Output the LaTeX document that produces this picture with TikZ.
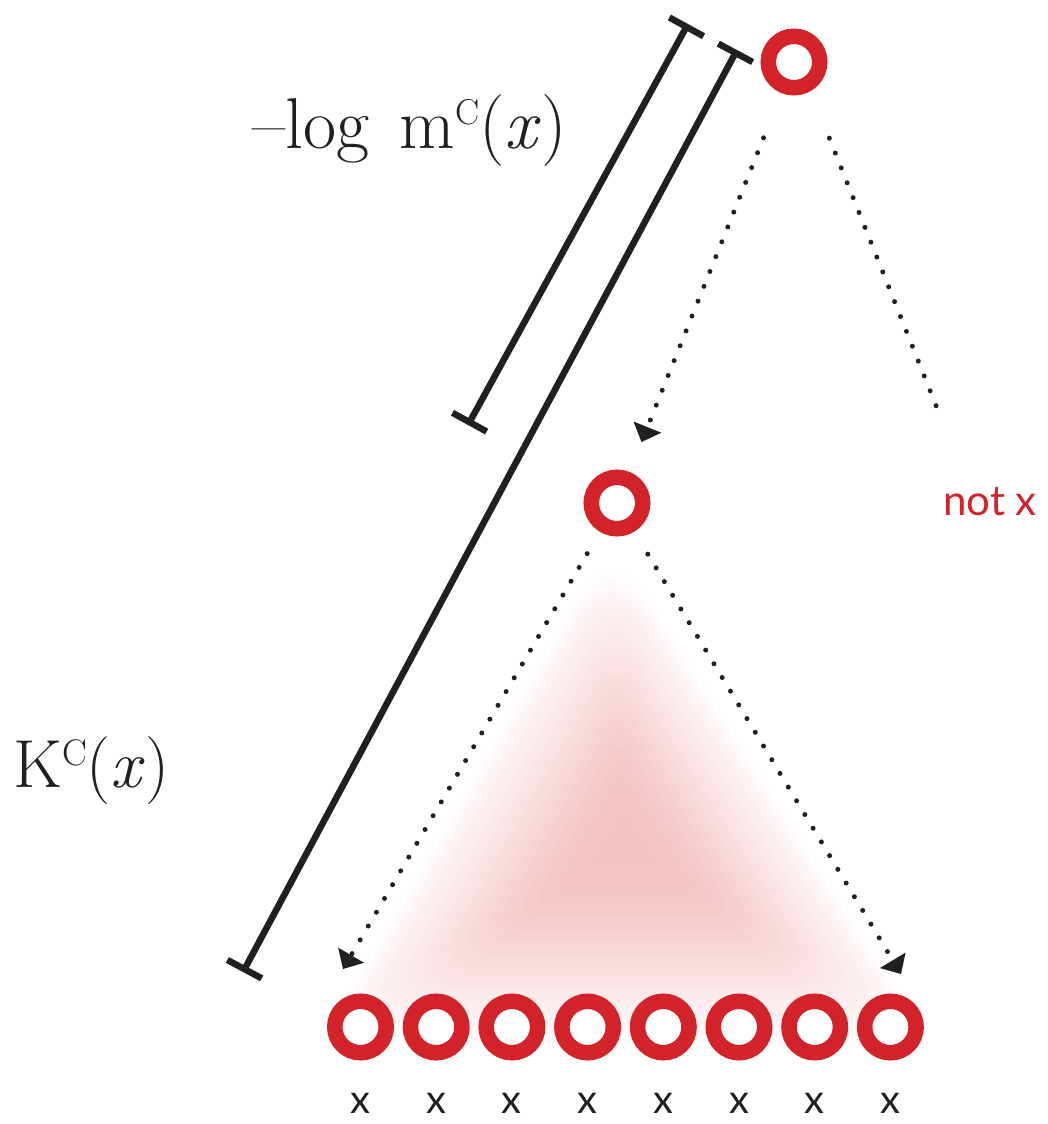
\documentclass[tikz,border=0pt]{standalone}
\usepackage{fontspec}
\newfontfamily\labfont{Lato}
\usetikzlibrary{arrows.meta,calc}
\definecolor{ringred}{HTML}{D2232A}
\definecolor{ink}{HTML}{231F20}
\tikzset{
  ring/.style={circle, draw=ringred, line width=15.5pt, fill=white, minimum size=51.5pt, inner sep=0pt, outer sep=0pt},
  dotline/.style={ink, line width=5pt, line cap=round, dash pattern=on 0pt off 16pt},
  tip/.style={-{Triangle[width=30pt,length=16pt,line width=0pt]}},
  measure/.style={ink, line width=6.5pt, arrows={Bar[width=39pt]-Bar[width=39pt]}},
  biglab/.style={ink, anchor=base west, inner sep=0pt},
  xlab/.style={ink, anchor=base, inner sep=0pt, font=\labfont\fontsize{40}{44}\selectfont},
  redlab/.style={ringred, anchor=base west, inner sep=0pt, font=\labfont\fontsize{42}{46}\selectfont}
}
\begin{document}
\begin{tikzpicture}[x=1pt,y=-1pt]
\useasboundingbox (0,0) rectangle (1047,1124);
% soft pink glow
\coordinate (sc) at (625,845);
\coordinate (sA) at (610,535);
\coordinate (sB) at (315,1045);
\coordinate (sC) at (935,1045);
\foreach \k in {1,...,40}{
  \pgfmathsetmacro{\s}{(\k/40)^0.8}
  \fill[ringred, fill opacity=0.0095, rounded corners={70*\s}] ($(sc)!\s!(sA)$) -- ($(sc)!\s!(sB)$) -- ($(sc)!\s!(sC)$) -- cycle;
}
% nodes
\node[ring] (top) at (794,62) {};
\node[ring] (mid) at (617,503) {};
\foreach \i in {1,...,8}{
  \node[ring] (b\i) at ({360.5+75.7*(\i-1)},1027) {};
  \node[xlab] (x\i) at ({360.5+75.7*(\i-1)},1113) {x};
}
\node[redlab] (notx) at (943,515) {not x};
% labels
\node[biglab, font=\fontsize{72}{76}\selectfont] (mlab) at (252,148) {\textendash log\hspace{0.42em}m\raisebox{24pt}{\fontsize{36}{38}\selectfont C}(\textit{x})};
\node[biglab, font=\fontsize{68}{72}\selectfont] (klab) at (13,787) {K\raisebox{22pt}{\fontsize{37}{39}\selectfont C}(\textit{x})};
% measure bars
\coordinate (oT) at (737,50);
\coordinate (oB) at (243,972);
\coordinate (iT) at (688,24);
\coordinate (iB) at (468,425);
\draw[measure] (oT) -- (oB);
\draw[measure] (iT) -- (iB);
% dotted connectors
\coordinate (tipL) at (343,969);
\coordinate (tipR) at (901,974);
\coordinate (nxend) at (941,418);
\draw[dotline, tip, shorten <=56pt, shorten >=40pt] (top) -- (mid);
\draw[dotline, shorten <=82pt] ([xshift=5pt]top.center) -- (nxend);
\draw[dotline, tip, shorten <=33pt] (mid) -- (tipL);
\draw[dotline, tip, shorten <=34pt] (mid) -- (tipR);
\end{tikzpicture}
\end{document}
